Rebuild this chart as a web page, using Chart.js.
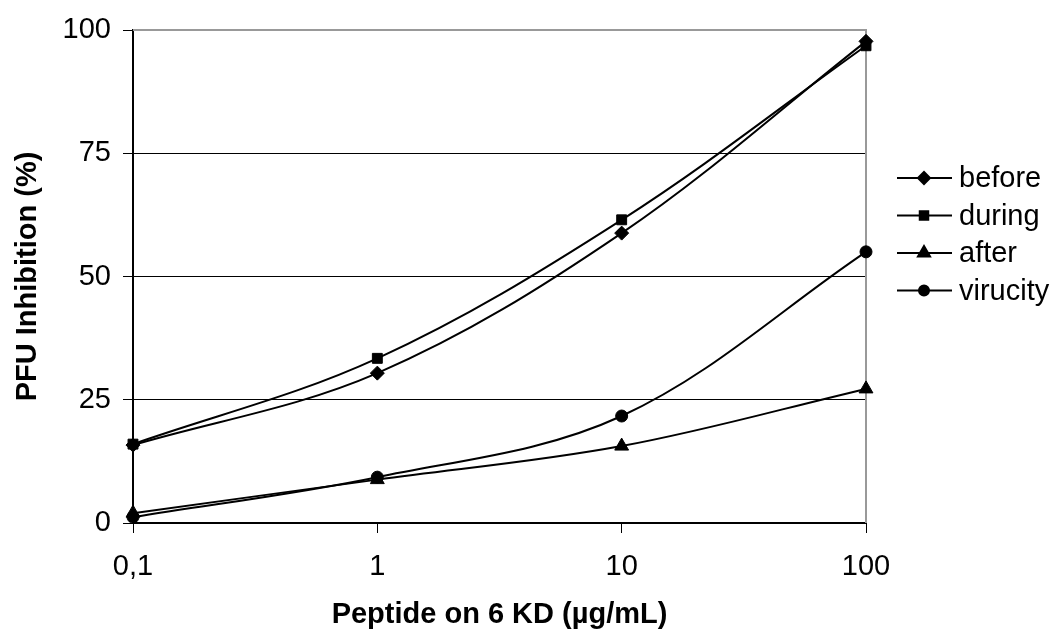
<!DOCTYPE html>
<html lang="en">
<head>
    <meta charset="UTF-8">
    <title>PFU Inhibition</title>
    <style>
        html, body {
            margin: 0;
            padding: 0;
            background: #fff;
        }
        .wrap {
            width: 1052px;
            height: 636px;
        }
    </style>
</head>
<body>
    <div class="wrap">
        <canvas id="chart"></canvas>
    </div>

    <script src="https://cdn.jsdelivr.net/npm/chart.js@4/dist/chart.umd.min.js"></script>
    <script>
        const doses = [0.1, 1, 10, 100];
        const doseLabels = ['0,1', '1', '10', '100'];
        const yTicks = [0, 25, 50, 75, 100];

        const before = [15.8, 30.4, 58.8, 97.7];
        const during = [16.0, 33.4, 61.5, 96.8];
        const after = [2.0, 8.8, 15.6, 27.2];
        const virucity = [1.2, 9.3, 21.7, 55.0];

        const seriesNames = ['before', 'during', 'after', 'virucity'];
        const seriesMarks = [
            { style: 'rectRot', radius: 7 },
            { style: 'rect', radius: 7 },
            { style: 'triangle', radius: 8 },
            { style: 'circle', radius: 6 }
        ];

        const font = 'Liberation Sans, Arial, sans-serif';
        const fontSize = 29;

        function pts(values) {
            return values.map((v, i) => ({ x: doses[i], y: v }));
        }

        const datasets = [before, during, after, virucity].map((vals, i) => ({
            label: seriesNames[i],
            data: pts(vals),
            borderColor: '#000',
            backgroundColor: '#000',
            borderWidth: 2,
            pointStyle: seriesMarks[i].style,
            pointRadius: seriesMarks[i].radius,
            pointBackgroundColor: '#000',
            pointBorderColor: '#000',
            pointBorderWidth: 1,
            tension: 0.35,
            clip: false
        }));

        // grey frame on top and right, legend at the right side
        const framePlugin = {
            id: 'frame',
            beforeDatasetsDraw(chart) {
                const { ctx, chartArea: a } = chart;
                ctx.save();
                ctx.strokeStyle = '#999';
                ctx.lineWidth = 2;
                ctx.beginPath();
                ctx.moveTo(a.left, a.top);
                ctx.lineTo(a.right, a.top);
                ctx.lineTo(a.right, a.bottom);
                ctx.stroke();
                ctx.restore();
            },
            afterDraw(chart) {
                const ctx = chart.ctx;
                ctx.save();
                seriesNames.forEach((name, i) => {
                    const y = 178 + i * 37.5;
                    ctx.strokeStyle = '#000';
                    ctx.lineWidth = 2;
                    ctx.beginPath();
                    ctx.moveTo(897, y);
                    ctx.lineTo(952, y);
                    ctx.stroke();
                    ctx.fillStyle = '#000';
                    Chart.helpers.drawPoint(ctx, {
                        pointStyle: seriesMarks[i].style,
                        radius: seriesMarks[i].radius - 1,
                        borderWidth: 1
                    }, 924, y);
                    ctx.fillStyle = '#000';
                    ctx.font = fontSize + 'px ' + font;
                    ctx.textAlign = 'left';
                    ctx.textBaseline = 'middle';
                    ctx.fillText(name, 959, y + 1);
                });
                ctx.restore();
            }
        };

        new Chart(document.getElementById('chart'), {
            type: 'line',
            data: { datasets: datasets },
            plugins: [framePlugin],
            options: {
                responsive: true,
                maintainAspectRatio: false,
                animation: false,
                layout: {
                    padding: { left: 0, right: 186, top: 30, bottom: 0 }
                },
                plugins: {
                    legend: { display: false },
                    tooltip: { enabled: false }
                },
                scales: {
                    x: {
                        type: 'logarithmic',
                        min: 0.1,
                        max: 100,
                        afterBuildTicks(scale) {
                            scale.ticks = doses.map(v => ({ value: v }));
                        },
                        afterFit(scale) {
                            scale.height = 113;
                        },
                        ticks: {
                            autoSkip: false,
                            maxRotation: 0,
                            color: '#000',
                            padding: 17,
                            font: { family: font, size: fontSize },
                            callback: (v) => doseLabels[doses.indexOf(v)]
                        },
                        grid: {
                            drawOnChartArea: false,
                            color: '#000',
                            tickLength: 10,
                            lineWidth: 1
                        },
                        border: { color: '#000', width: 2 },
                        title: {
                            display: true,
                            text: 'Peptide on 6 KD (µg/mL)',
                            color: '#000',
                            font: { family: font, size: fontSize, weight: 'bold' },
                            padding: { top: 10, bottom: 4 }
                        }
                    },
                    y: {
                        min: 0,
                        max: 100,
                        afterBuildTicks(scale) {
                            scale.ticks = yTicks.map(v => ({ value: v }));
                        },
                        afterFit(scale) {
                            scale.width = 133;
                        },
                        ticks: {
                            color: '#000',
                            padding: 12,
                            font: { family: font, size: fontSize }
                        },
                        grid: {
                            color: '#000',
                            tickLength: 10,
                            lineWidth: 1
                        },
                        border: { color: '#000', width: 2 },
                        title: {
                            display: true,
                            text: 'PFU Inhibition (%)',
                            color: '#000',
                            font: { family: font, size: fontSize, weight: 'bold' },
                            padding: { top: 11, bottom: 0 }
                        }
                    }
                }
            }
        });
    </script>
</body>
</html>
